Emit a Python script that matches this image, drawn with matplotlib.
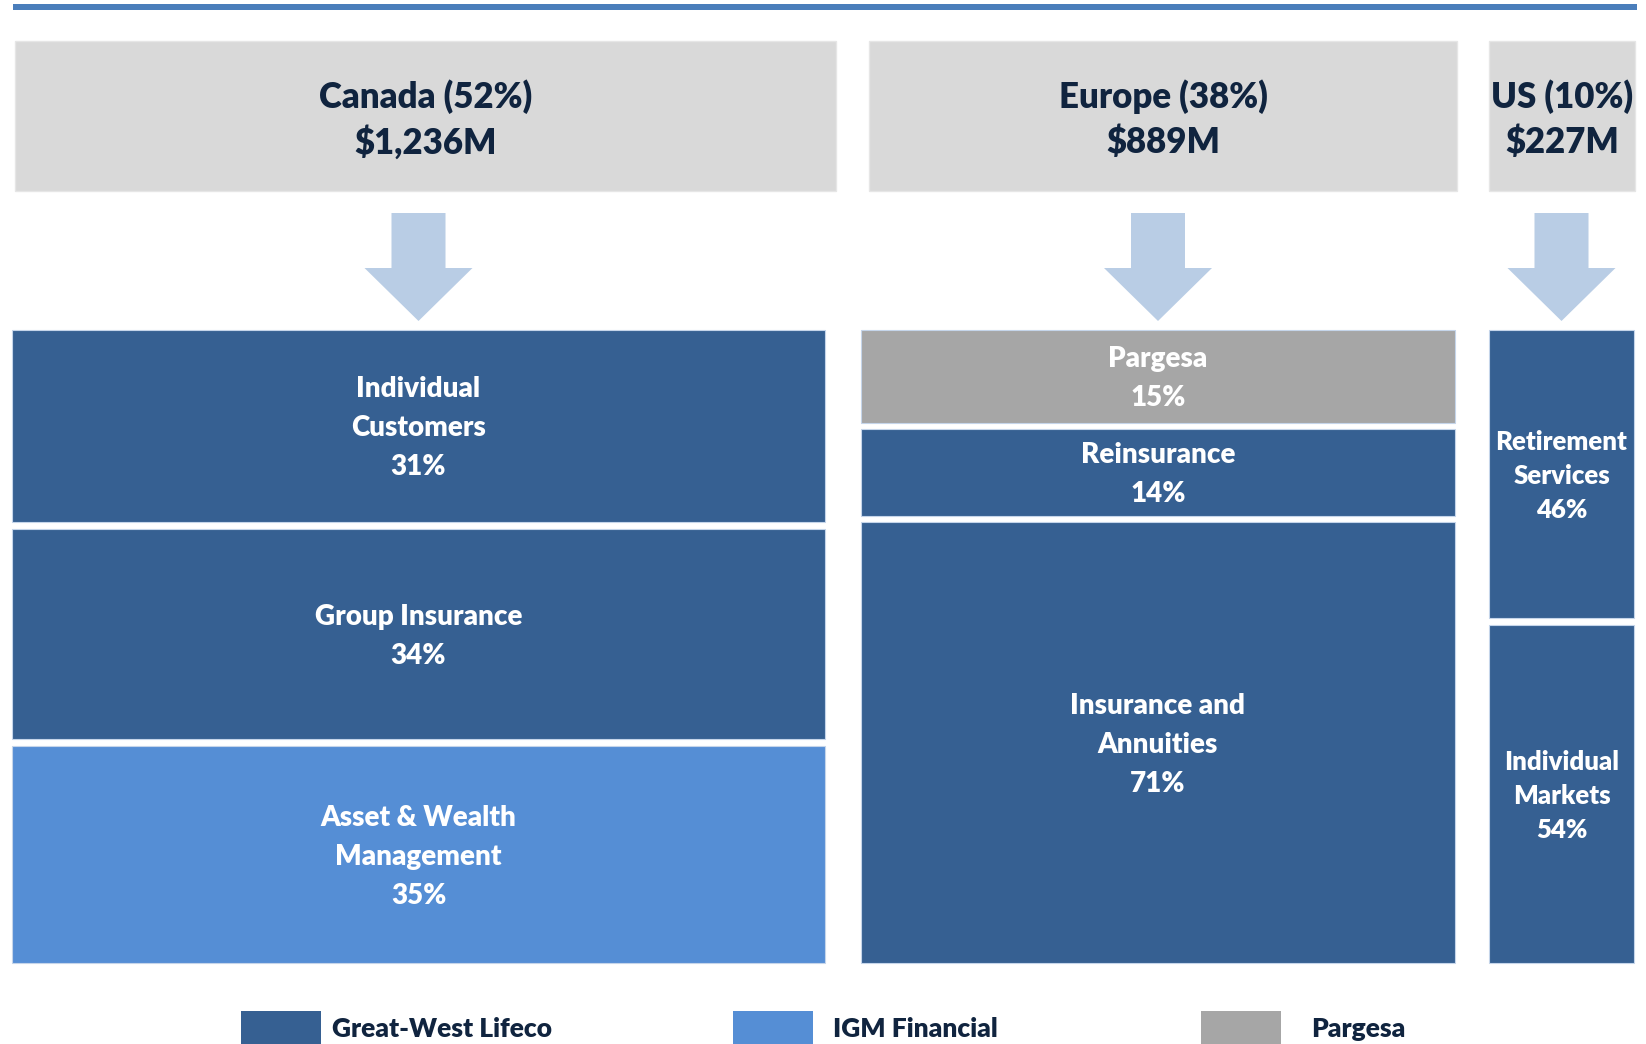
import matplotlib.pyplot as plt
from matplotlib.patches import Rectangle, Polygon

plt.rcParams['font.family'] = ['Lato', 'DejaVu Sans']

# регионы
regions = ['Canada', 'Europe', 'US']
region_share = [52, 38, 10]
region_amount = ['$1,236M', '$889M', '$227M']

# сегменты внутри регионов (сверху вниз)
seg_labels = [
    ['Individual\nCustomers', 'Group Insurance', 'Asset & Wealth\nManagement'],
    ['Pargesa', 'Reinsurance', 'Insurance and\nAnnuities'],
    ['Retirement\nServices', 'Individual\nMarkets'],
]
seg_pct = [
    [31, 34, 35],
    [15, 14, 71],
    [46, 54],
]
seg_owner = [
    ['Great-West Lifeco', 'Great-West Lifeco', 'IGM Financial'],
    ['Pargesa', 'Great-West Lifeco', 'Great-West Lifeco'],
    ['Great-West Lifeco', 'Great-West Lifeco'],
]
owners = ['Great-West Lifeco', 'IGM Financial', 'Pargesa']

# стиль
owner_color = {'Great-West Lifeco': '#366092', 'IGM Financial': '#558ED5', 'Pargesa': '#A6A6A6'}
navy = '#10243F'
header_gray = '#D9D9D9'
arrow_col = '#B9CDE5'
wt = 'heavy'

# раскладка в пикселях
W, H = 1646, 1044
head_x = [(15, 836), (869, 1457), (1489, 1635)]
col_x = [(12, 825), (861, 1455), (1489, 1634)]
head_y = (41, 191)
col_top, col_bot = 330, 963
gaps = [7, 6, 7]
seg_fs = [20, 20, 18.5]
seg_ls = [1.62, 1.62, 1.5]

fig = plt.figure(figsize=(W / 100, H / 100), dpi=100)
ax = fig.add_axes([0, 0, 1, 1])
ax.set_xlim(0, W)
ax.set_ylim(H, 0)
ax.axis('off')

# верхняя линия
ax.add_patch(Rectangle((13, 4), 1624, 6, color='#4A7EBB', lw=0))

for k in range(len(regions)):
    hx0, hx1 = head_x[k]
    ax.add_patch(Rectangle((hx0, head_y[0]), hx1 - hx0, head_y[1] - head_y[0],
                           facecolor=header_gray, edgecolor='#E6E6E6', lw=1))
    cx = (hx0 + hx1) / 2
    ax.text(cx, 97, '%s (%d%%)' % (regions[k], region_share[k]), ha='center', va='center',
            fontsize=25, fontweight=wt, color=navy)
    ax.text(cx, 142, region_amount[k], ha='center', va='center',
            fontsize=25, fontweight=wt, color=navy)

    # стрелка
    x0, x1 = col_x[k]
    ac = (x0 + x1) / 2
    sw, hw = 27, 54
    ax.add_patch(Polygon([(ac - sw, 213), (ac + sw, 213), (ac + sw, 268), (ac + hw, 268),
                          (ac, 321), (ac - hw, 268), (ac - sw, 268)],
                         closed=True, facecolor=arrow_col, edgecolor='none'))

    # сегменты
    pcts = seg_pct[k]
    gap = gaps[k]
    avail = col_bot - col_top - gap * (len(pcts) - 1)
    y = col_top
    for lab, p, own in zip(seg_labels[k], pcts, seg_owner[k]):
        h = avail * p / sum(pcts)
        ax.add_patch(Rectangle((x0, y), x1 - x0, h, facecolor=owner_color[own],
                               edgecolor='#C5D5EA', lw=0.8))
        ax.text((x0 + x1) / 2, y + h / 2 + 2, '%s\n%d%%' % (lab, p), ha='center', va='center',
                fontsize=seg_fs[k], fontweight=wt, color='white', linespacing=seg_ls[k])
        y += h + gap

# легенда
leg_sq = [241, 733, 1201]
leg_tx = [332, 833, 1311]
for own, sx, tx in zip(owners, leg_sq, leg_tx):
    ax.add_patch(Rectangle((sx, 1011), 80, 40, facecolor=owner_color[own], edgecolor='none'))
    ax.text(tx, 1017, own, ha='left', va='top', fontsize=19, fontweight=wt, color=navy)

fig.savefig('out.png', dpi=100)
